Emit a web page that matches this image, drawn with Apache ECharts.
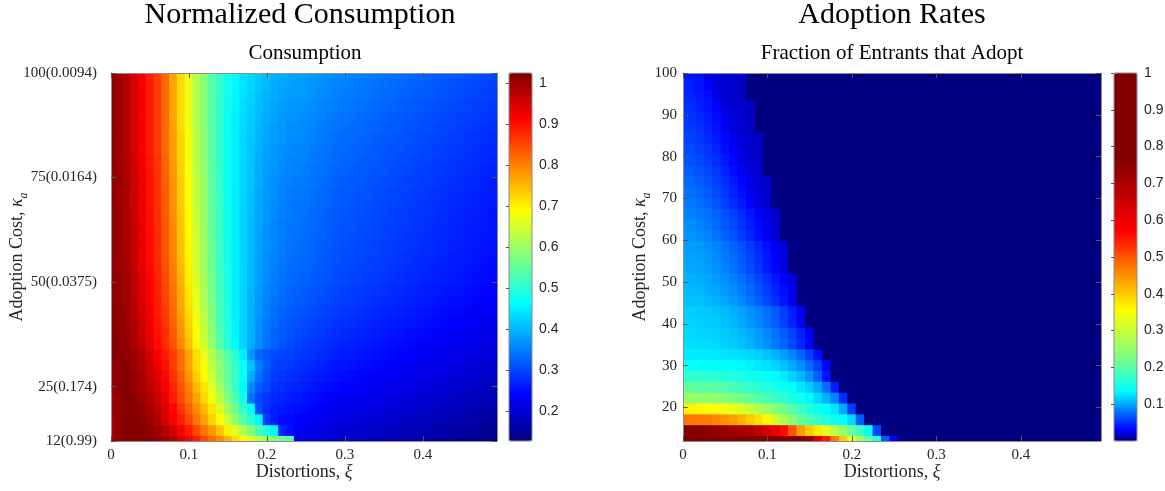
<!DOCTYPE html>
<html><head><meta charset="utf-8">
<script src="https://cdn.jsdelivr.net/npm/echarts@6/dist/echarts.min.js"></script>
<style>html,body{margin:0;padding:0;background:#fff}#c{width:1165px;height:491px}</style>
</head><body><div id="c"></div>
<script>
// ---- grid coordinates (cell centres) ----
const xi = [0,0.01,0.02,0.03,0.04,0.05,0.06,0.07,0.08,0.09,0.10,0.11,0.12,0.13,0.14,0.15,0.16,0.17,0.18,0.19,0.20,0.21,0.22,0.23,0.24,0.25,0.26,0.27,0.28,0.29,0.30,0.31,0.32,0.33,0.34,0.35,0.36,0.37,0.38,0.39,0.40,0.41,0.42,0.43,0.44,0.45,0.46,0.47,0.48,0.49];
const kappa = [12,14.588,17.176,19.765,22.353,24.941,27.529,30.118,32.706,35.294,37.882,40.471,43.059,45.647,48.235,50.824,53.412,56,58.588,61.176,63.765,66.353,68.941,71.529,74.118,76.706,79.294,81.882,84.471,87.059,89.647,92.235,94.824,97.412,100];

// ---- tick labels ----
const xTicks = [0,0.1,0.2,0.3,0.4];
const xTickLabels = ['0','0.1','0.2','0.3','0.4'];
const consYTicks = [12,25,50,75,100];
const consYTickLabels = ['12(0.99)','25(0.174)','50(0.0375)','75(0.0164)','100(0.0094)'];
const adoptYTicks = [20,30,40,50,60,70,80,90,100];
const adoptYTickLabels = ['20','30','40','50','60','70','80','90','100'];
const consBarTicks = [0.2,0.3,0.4,0.5,0.6,0.7,0.8,0.9,1];
const consBarLabels = ['0.2','0.3','0.4','0.5','0.6','0.7','0.8','0.9','1'];
const adoptBarTicks = [0.1,0.2,0.3,0.4,0.5,0.6,0.7,0.8,0.9,1];
const adoptBarLabels = ['0.1','0.2','0.3','0.4','0.5','0.6','0.7','0.8','0.9','1'];
const consRange = [0.127, 1.025];
const adoptRange = [0, 1];

// ---- normalized consumption, one row per kappa (bottom to top), one value per xi ----
const consumption = [
[0.99,1.01,1.02,1.02,1.02,1.02,1.01,1.00,0.98,0.95,0.92,0.89,0.85,0.82,0.79,0.76,0.72,0.69,0.66,0.63,0.60,0.58,0.56,0.54,0.22,0.215,0.21,0.205,0.20,0.195,0.192,0.189,0.186,0.183,0.180,0.177,0.174,0.171,0.168,0.165,0.162,0.159,0.156,0.153,0.150,0.147,0.144,0.141,0.138,0.135],
[0.99,1.01,1.02,1.02,1.02,1.01,1.00,0.98,0.95,0.92,0.89,0.85,0.81,0.78,0.74,0.70,0.66,0.62,0.58,0.53,0.49,0.46,0.27,0.25,0.230,0.225,0.220,0.215,0.210,0.205,0.202,0.199,0.196,0.193,0.190,0.187,0.184,0.181,0.178,0.175,0.172,0.169,0.166,0.163,0.160,0.157,0.154,0.151,0.148,0.145],
[0.99,1.01,1.02,1.02,1.01,1.00,0.98,0.95,0.92,0.89,0.85,0.81,0.77,0.73,0.69,0.64,0.59,0.54,0.50,0.46,0.29,0.265,0.250,0.245,0.240,0.235,0.230,0.225,0.220,0.215,0.212,0.209,0.206,0.203,0.200,0.197,0.194,0.191,0.188,0.185,0.182,0.179,0.176,0.173,0.170,0.167,0.164,0.161,0.158,0.155],
[1.00,1.01,1.02,1.02,1.01,0.99,0.97,0.94,0.91,0.87,0.83,0.79,0.75,0.71,0.66,0.61,0.56,0.51,0.47,0.31,0.28,0.265,0.260,0.255,0.250,0.245,0.240,0.235,0.230,0.225,0.222,0.219,0.216,0.213,0.210,0.207,0.204,0.201,0.198,0.195,0.192,0.189,0.186,0.183,0.180,0.177,0.174,0.171,0.168,0.165],
[1.00,1.01,1.02,1.02,1.00,0.98,0.96,0.93,0.89,0.85,0.81,0.77,0.72,0.68,0.63,0.58,0.53,0.48,0.34,0.30,0.285,0.274,0.269,0.264,0.259,0.254,0.249,0.244,0.239,0.234,0.231,0.228,0.225,0.222,0.219,0.216,0.213,0.210,0.207,0.204,0.201,0.198,0.195,0.192,0.189,0.186,0.183,0.180,0.177,0.174],
[1.00,1.01,1.02,1.01,0.99,0.97,0.95,0.92,0.88,0.84,0.80,0.75,0.71,0.66,0.61,0.56,0.51,0.46,0.36,0.32,0.30,0.282,0.277,0.272,0.267,0.262,0.257,0.252,0.247,0.242,0.239,0.236,0.233,0.230,0.227,0.224,0.221,0.218,0.215,0.212,0.209,0.206,0.203,0.200,0.197,0.194,0.191,0.188,0.185,0.182],
[1.01,1.01,1.02,1.01,0.99,0.96,0.94,0.91,0.87,0.83,0.78,0.73,0.69,0.64,0.59,0.55,0.51,0.47,0.39,0.34,0.31,0.290,0.285,0.280,0.275,0.270,0.265,0.260,0.255,0.250,0.247,0.244,0.241,0.238,0.235,0.232,0.229,0.226,0.223,0.220,0.217,0.214,0.211,0.208,0.205,0.202,0.199,0.196,0.193,0.190],
[1.01,1.01,1.02,1.00,0.98,0.96,0.93,0.90,0.86,0.82,0.77,0.72,0.68,0.63,0.59,0.55,0.51,0.47,0.41,0.35,0.32,0.298,0.293,0.288,0.283,0.278,0.273,0.268,0.263,0.258,0.255,0.252,0.249,0.246,0.243,0.240,0.237,0.234,0.231,0.228,0.225,0.222,0.219,0.216,0.213,0.210,0.207,0.204,0.201,0.198],
[1.02,1.02,1.01,1.00,0.98,0.95,0.92,0.89,0.86,0.82,0.77,0.72,0.67,0.62,0.58,0.54,0.50,0.45,0.37,0.33,0.315,0.305,0.300,0.295,0.290,0.285,0.280,0.275,0.270,0.265,0.262,0.259,0.256,0.253,0.250,0.247,0.244,0.241,0.238,0.235,0.232,0.229,0.226,0.223,0.220,0.217,0.214,0.211,0.208,0.205],
[1.02,1.015,1.01,0.99,0.965,0.935,0.905,0.875,0.84,0.795,0.745,0.695,0.645,0.591,0.542,0.499,0.46,0.426,0.393,0.363,0.340,0.324,0.312,0.303,0.297,0.292,0.287,0.282,0.277,0.272,0.269,0.266,0.263,0.260,0.257,0.254,0.251,0.248,0.245,0.242,0.239,0.236,0.233,0.230,0.227,0.224,0.221,0.218,0.215,0.212],
[1.02,1.015,1.005,0.986,0.959,0.929,0.899,0.872,0.835,0.785,0.735,0.685,0.635,0.584,0.536,0.494,0.456,0.425,0.393,0.365,0.344,0.328,0.317,0.309,0.303,0.298,0.293,0.288,0.283,0.278,0.275,0.272,0.269,0.266,0.263,0.260,0.257,0.254,0.251,0.248,0.245,0.242,0.239,0.236,0.233,0.230,0.227,0.224,0.221,0.218],
[1.02,1.01,1.002,0.983,0.955,0.925,0.895,0.866,0.827,0.778,0.728,0.678,0.628,0.578,0.531,0.492,0.455,0.425,0.394,0.367,0.347,0.333,0.322,0.314,0.309,0.304,0.299,0.294,0.289,0.284,0.281,0.278,0.275,0.272,0.269,0.266,0.263,0.260,0.257,0.254,0.251,0.248,0.245,0.242,0.239,0.236,0.233,0.230,0.227,0.224],
[1.02,1.01,1.00,0.98,0.95,0.92,0.89,0.86,0.82,0.77,0.72,0.67,0.62,0.573,0.526,0.489,0.452,0.425,0.395,0.37,0.351,0.337,0.327,0.319,0.314,0.310,0.305,0.300,0.295,0.290,0.287,0.284,0.281,0.278,0.275,0.272,0.269,0.266,0.263,0.260,0.257,0.254,0.251,0.248,0.245,0.242,0.239,0.236,0.233,0.230],
[1.015,1.009,0.998,0.977,0.947,0.917,0.887,0.856,0.815,0.765,0.715,0.665,0.616,0.57,0.524,0.488,0.452,0.426,0.397,0.372,0.354,0.341,0.331,0.324,0.319,0.315,0.310,0.305,0.300,0.295,0.292,0.289,0.286,0.283,0.280,0.277,0.274,0.271,0.268,0.265,0.262,0.259,0.256,0.253,0.250,0.247,0.244,0.241,0.238,0.235],
[1.01,1.008,0.996,0.974,0.944,0.914,0.884,0.852,0.81,0.76,0.71,0.66,0.612,0.566,0.522,0.486,0.452,0.426,0.399,0.375,0.358,0.345,0.336,0.329,0.324,0.320,0.315,0.310,0.305,0.300,0.297,0.294,0.291,0.288,0.285,0.282,0.279,0.276,0.273,0.270,0.267,0.264,0.261,0.258,0.255,0.252,0.249,0.246,0.243,0.240],
[1.01,1.007,0.994,0.971,0.941,0.911,0.881,0.848,0.805,0.755,0.705,0.655,0.608,0.562,0.52,0.484,0.452,0.426,0.401,0.378,0.361,0.349,0.339,0.333,0.328,0.324,0.319,0.314,0.309,0.304,0.301,0.298,0.295,0.292,0.289,0.286,0.283,0.280,0.277,0.274,0.271,0.268,0.265,0.262,0.259,0.256,0.253,0.250,0.247,0.244],
[1.01,1.006,0.992,0.968,0.938,0.908,0.878,0.844,0.80,0.75,0.70,0.65,0.604,0.559,0.517,0.482,0.451,0.426,0.402,0.38,0.363,0.351,0.342,0.335,0.331,0.327,0.322,0.317,0.312,0.307,0.304,0.301,0.298,0.295,0.292,0.289,0.286,0.283,0.280,0.277,0.274,0.271,0.268,0.265,0.262,0.259,0.256,0.253,0.250,0.247],
[1.01,1.005,0.99,0.965,0.935,0.905,0.875,0.84,0.795,0.745,0.695,0.645,0.60,0.555,0.515,0.48,0.45,0.425,0.403,0.381,0.365,0.353,0.345,0.338,0.334,0.330,0.325,0.320,0.315,0.310,0.307,0.304,0.301,0.298,0.295,0.292,0.289,0.286,0.283,0.280,0.277,0.274,0.271,0.268,0.265,0.262,0.259,0.256,0.253,0.250],
[1.01,1.005,0.99,0.965,0.935,0.905,0.875,0.84,0.795,0.745,0.695,0.645,0.60,0.555,0.515,0.481,0.451,0.426,0.404,0.382,0.367,0.355,0.346,0.34,0.336,0.332,0.327,0.322,0.317,0.312,0.309,0.306,0.303,0.300,0.297,0.294,0.291,0.288,0.285,0.282,0.279,0.276,0.273,0.270,0.267,0.264,0.261,0.258,0.255,0.252],
[1.01,1.005,0.989,0.964,0.934,0.904,0.874,0.838,0.793,0.743,0.693,0.643,0.598,0.553,0.514,0.48,0.451,0.426,0.405,0.384,0.368,0.357,0.348,0.342,0.338,0.334,0.329,0.324,0.319,0.314,0.311,0.308,0.305,0.302,0.299,0.296,0.293,0.290,0.287,0.284,0.281,0.278,0.275,0.272,0.269,0.266,0.263,0.260,0.257,0.254],
[1.01,1.004,0.988,0.962,0.932,0.902,0.872,0.836,0.79,0.74,0.69,0.64,0.596,0.552,0.513,0.479,0.45,0.426,0.405,0.384,0.369,0.358,0.35,0.344,0.34,0.336,0.331,0.326,0.321,0.316,0.313,0.310,0.307,0.304,0.301,0.298,0.295,0.292,0.289,0.286,0.283,0.280,0.277,0.274,0.271,0.268,0.265,0.262,0.259,0.256],
[1.01,1.004,0.987,0.961,0.931,0.901,0.871,0.834,0.788,0.738,0.688,0.638,0.594,0.55,0.512,0.478,0.45,0.426,0.406,0.386,0.371,0.36,0.352,0.346,0.341,0.338,0.333,0.328,0.323,0.318,0.315,0.312,0.309,0.306,0.303,0.300,0.297,0.294,0.291,0.288,0.285,0.282,0.279,0.276,0.273,0.270,0.267,0.264,0.261,0.258],
[1.01,1.003,0.986,0.959,0.929,0.899,0.869,0.832,0.785,0.735,0.685,0.635,0.592,0.548,0.511,0.477,0.45,0.426,0.407,0.387,0.372,0.361,0.353,0.347,0.343,0.340,0.335,0.330,0.325,0.320,0.317,0.314,0.311,0.308,0.305,0.302,0.299,0.296,0.293,0.290,0.287,0.284,0.281,0.278,0.275,0.272,0.269,0.266,0.263,0.260],
[1.01,1.003,0.986,0.959,0.929,0.899,0.869,0.832,0.785,0.735,0.685,0.635,0.592,0.548,0.511,0.478,0.451,0.427,0.408,0.388,0.374,0.363,0.355,0.349,0.345,0.342,0.337,0.332,0.327,0.322,0.319,0.316,0.313,0.310,0.307,0.304,0.301,0.298,0.295,0.292,0.289,0.286,0.283,0.280,0.277,0.274,0.271,0.268,0.265,0.262],
[1.01,1.003,0.985,0.958,0.928,0.898,0.868,0.83,0.783,0.733,0.683,0.633,0.59,0.547,0.51,0.477,0.451,0.428,0.41,0.391,0.376,0.366,0.358,0.352,0.348,0.345,0.340,0.335,0.330,0.325,0.322,0.319,0.316,0.313,0.310,0.307,0.304,0.301,0.298,0.295,0.292,0.289,0.286,0.283,0.280,0.277,0.274,0.271,0.268,0.265],
[1.01,1.002,0.984,0.956,0.926,0.896,0.866,0.828,0.78,0.73,0.68,0.63,0.588,0.545,0.51,0.476,0.451,0.428,0.411,0.392,0.378,0.368,0.361,0.355,0.351,0.348,0.343,0.338,0.333,0.328,0.325,0.322,0.319,0.316,0.313,0.310,0.307,0.304,0.301,0.298,0.295,0.292,0.289,0.286,0.283,0.280,0.277,0.274,0.271,0.268],
[1.01,1.00,0.983,0.955,0.925,0.895,0.865,0.826,0.778,0.728,0.678,0.628,0.586,0.543,0.509,0.476,0.451,0.429,0.413,0.394,0.381,0.371,0.363,0.358,0.354,0.351,0.346,0.341,0.336,0.331,0.328,0.325,0.322,0.319,0.316,0.313,0.310,0.307,0.304,0.301,0.298,0.295,0.292,0.289,0.286,0.283,0.280,0.277,0.274,0.271],
[1.01,1.00,0.98,0.95,0.92,0.89,0.86,0.82,0.775,0.725,0.675,0.625,0.584,0.541,0.508,0.475,0.452,0.429,0.414,0.396,0.383,0.373,0.366,0.361,0.357,0.354,0.349,0.344,0.339,0.334,0.331,0.328,0.325,0.322,0.319,0.316,0.313,0.310,0.307,0.304,0.301,0.298,0.295,0.292,0.289,0.286,0.283,0.280,0.277,0.274],
[1.01,1.00,0.98,0.95,0.92,0.89,0.86,0.82,0.775,0.725,0.675,0.625,0.584,0.542,0.508,0.476,0.453,0.43,0.416,0.398,0.385,0.376,0.369,0.364,0.36,0.357,0.352,0.347,0.342,0.337,0.334,0.331,0.328,0.325,0.322,0.319,0.316,0.313,0.310,0.307,0.304,0.301,0.298,0.295,0.292,0.289,0.286,0.283,0.280,0.277],
[1.01,1.00,0.98,0.95,0.92,0.89,0.86,0.82,0.772,0.722,0.672,0.622,0.582,0.54,0.508,0.476,0.453,0.431,0.418,0.401,0.388,0.379,0.372,0.366,0.363,0.360,0.355,0.350,0.345,0.340,0.337,0.334,0.331,0.328,0.325,0.322,0.319,0.316,0.313,0.310,0.307,0.304,0.301,0.298,0.295,0.292,0.289,0.286,0.283,0.280],
[1.01,1.00,0.98,0.95,0.92,0.89,0.86,0.82,0.77,0.72,0.67,0.62,0.58,0.538,0.507,0.475,0.454,0.432,0.42,0.403,0.391,0.382,0.375,0.37,0.367,0.364,0.359,0.354,0.349,0.344,0.341,0.338,0.335,0.332,0.329,0.326,0.323,0.320,0.317,0.314,0.311,0.308,0.305,0.302,0.299,0.296,0.293,0.290,0.287,0.284],
[1.01,1.00,0.98,0.95,0.92,0.89,0.86,0.82,0.77,0.72,0.67,0.62,0.58,0.54,0.508,0.476,0.455,0.434,0.422,0.406,0.394,0.385,0.379,0.374,0.371,0.368,0.363,0.358,0.353,0.348,0.345,0.342,0.339,0.336,0.333,0.330,0.327,0.324,0.321,0.318,0.315,0.312,0.309,0.306,0.303,0.300,0.297,0.294,0.291,0.288],
[1.01,1.00,0.98,0.95,0.92,0.89,0.86,0.82,0.77,0.72,0.67,0.62,0.58,0.54,0.51,0.48,0.457,0.436,0.425,0.409,0.397,0.389,0.383,0.378,0.375,0.372,0.367,0.362,0.357,0.352,0.349,0.346,0.343,0.340,0.337,0.334,0.331,0.328,0.325,0.322,0.319,0.316,0.313,0.310,0.307,0.304,0.301,0.298,0.295,0.292],
[1.01,1.00,0.98,0.95,0.92,0.89,0.86,0.82,0.77,0.72,0.67,0.62,0.58,0.54,0.51,0.48,0.46,0.44,0.43,0.414,0.402,0.393,0.387,0.382,0.379,0.376,0.371,0.366,0.361,0.356,0.353,0.350,0.347,0.344,0.341,0.338,0.335,0.332,0.329,0.326,0.323,0.320,0.317,0.314,0.311,0.308,0.305,0.302,0.299,0.296],
[1.01,1.00,0.98,0.95,0.92,0.89,0.86,0.82,0.77,0.72,0.67,0.62,0.58,0.54,0.51,0.48,0.46,0.44,0.43,0.415,0.404,0.396,0.39,0.386,0.383,0.380,0.375,0.370,0.365,0.360,0.357,0.354,0.351,0.348,0.345,0.342,0.339,0.336,0.333,0.330,0.327,0.324,0.321,0.318,0.315,0.312,0.309,0.306,0.303,0.300]
];

// ---- fraction of entrants that adopt, one row per kappa (bottom to top) ----
const adoption = [
[0.98,0.98,0.97,0.97,0.96,0.95,0.94,0.93,0.92,0.91,0.89,0.87,0.85,0.82,0.80,0.74,0.62,0.55,0.47,0.40,0.34,0.26,0.21,0.16,0.07,0.03,0,0,0,0,0,0,0,0,0,0,0,0,0,0,0,0,0,0,0,0,0,0,0,0],
[0.78,0.77,0.76,0.75,0.74,0.73,0.72,0.71,0.70,0.67,0.64,0.60,0.56,0.50,0.44,0.40,0.37,0.33,0.29,0.25,0.21,0.18,0.14,0.06,0,0,0,0,0,0,0,0,0,0,0,0,0,0,0,0,0,0,0,0,0,0,0,0,0,0],
[0.475,0.475,0.47,0.47,0.46,0.45,0.44,0.42,0.40,0.38,0.36,0.31,0.27,0.24,0.21,0.19,0.175,0.16,0.145,0.135,0.12,0.07,0,0,0,0,0,0,0,0,0,0,0,0,0,0,0,0,0,0,0,0,0,0,0,0,0,0,0,0],
[0.365,0.365,0.36,0.355,0.35,0.34,0.33,0.32,0.30,0.28,0.26,0.24,0.22,0.20,0.18,0.16,0.145,0.135,0.125,0.10,0.055,0,0,0,0,0,0,0,0,0,0,0,0,0,0,0,0,0,0,0,0,0,0,0,0,0,0,0,0,0],
[0.255,0.255,0.25,0.25,0.245,0.24,0.23,0.22,0.21,0.2,0.19,0.18,0.17,0.157,0.145,0.133,0.12,0.105,0.085,0.048,0,0,0,0,0,0,0,0,0,0,0,0,0,0,0,0,0,0,0,0,0,0,0,0,0,0,0,0,0,0],
[0.21,0.21,0.205,0.205,0.2,0.195,0.19,0.182,0.175,0.167,0.16,0.152,0.145,0.136,0.126,0.115,0.1,0.078,0.042,0,0,0,0,0,0,0,0,0,0,0,0,0,0,0,0,0,0,0,0,0,0,0,0,0,0,0,0,0,0,0],
[0.173,0.172,0.17,0.168,0.165,0.162,0.158,0.154,0.15,0.145,0.14,0.134,0.127,0.118,0.107,0.092,0.07,0.038,0,0,0,0,0,0,0,0,0,0,0,0,0,0,0,0,0,0,0,0,0,0,0,0,0,0,0,0,0,0,0,0],
[0.14,0.14,0.139,0.138,0.137,0.136,0.135,0.133,0.13,0.127,0.123,0.118,0.111,0.102,0.091,0.077,0.058,0.032,0,0,0,0,0,0,0,0,0,0,0,0,0,0,0,0,0,0,0,0,0,0,0,0,0,0,0,0,0,0,0,0],
[0.128,0.128,0.127,0.127,0.126,0.125,0.124,0.122,0.12,0.117,0.112,0.105,0.097,0.087,0.074,0.058,0.035,0,0,0,0,0,0,0,0,0,0,0,0,0,0,0,0,0,0,0,0,0,0,0,0,0,0,0,0,0,0,0,0,0],
[0.123,0.123,0.122,0.121,0.119,0.117,0.114,0.11,0.105,0.099,0.092,0.083,0.073,0.061,0.046,0.029,0,0,0,0,0,0,0,0,0,0,0,0,0,0,0,0,0,0,0,0,0,0,0,0,0,0,0,0,0,0,0,0,0,0],
[0.12,0.12,0.119,0.118,0.116,0.114,0.111,0.107,0.102,0.096,0.089,0.08,0.07,0.058,0.044,0.028,0,0,0,0,0,0,0,0,0,0,0,0,0,0,0,0,0,0,0,0,0,0,0,0,0,0,0,0,0,0,0,0,0,0],
[0.118,0.118,0.117,0.115,0.113,0.11,0.106,0.101,0.095,0.088,0.08,0.07,0.058,0.043,0.028,0,0,0,0,0,0,0,0,0,0,0,0,0,0,0,0,0,0,0,0,0,0,0,0,0,0,0,0,0,0,0,0,0,0,0],
[0.116,0.116,0.115,0.113,0.111,0.108,0.104,0.099,0.093,0.086,0.078,0.068,0.056,0.042,0.028,0,0,0,0,0,0,0,0,0,0,0,0,0,0,0,0,0,0,0,0,0,0,0,0,0,0,0,0,0,0,0,0,0,0,0],
[0.112,0.111,0.11,0.107,0.104,0.1,0.095,0.088,0.08,0.071,0.061,0.05,0.038,0.026,0,0,0,0,0,0,0,0,0,0,0,0,0,0,0,0,0,0,0,0,0,0,0,0,0,0,0,0,0,0,0,0,0,0,0,0],
[0.109,0.108,0.106,0.103,0.1,0.095,0.09,0.083,0.075,0.066,0.056,0.045,0.034,0.024,0,0,0,0,0,0,0,0,0,0,0,0,0,0,0,0,0,0,0,0,0,0,0,0,0,0,0,0,0,0,0,0,0,0,0,0],
[0.106,0.105,0.103,0.1,0.096,0.091,0.085,0.078,0.07,0.061,0.051,0.04,0.03,0.022,0,0,0,0,0,0,0,0,0,0,0,0,0,0,0,0,0,0,0,0,0,0,0,0,0,0,0,0,0,0,0,0,0,0,0,0],
[0.103,0.102,0.1,0.097,0.092,0.086,0.079,0.071,0.062,0.052,0.041,0.031,0.022,0,0,0,0,0,0,0,0,0,0,0,0,0,0,0,0,0,0,0,0,0,0,0,0,0,0,0,0,0,0,0,0,0,0,0,0,0],
[0.1,0.099,0.097,0.094,0.089,0.083,0.076,0.068,0.059,0.049,0.039,0.029,0.021,0,0,0,0,0,0,0,0,0,0,0,0,0,0,0,0,0,0,0,0,0,0,0,0,0,0,0,0,0,0,0,0,0,0,0,0,0],
[0.098,0.097,0.095,0.091,0.086,0.08,0.073,0.065,0.056,0.046,0.036,0.027,0.02,0,0,0,0,0,0,0,0,0,0,0,0,0,0,0,0,0,0,0,0,0,0,0,0,0,0,0,0,0,0,0,0,0,0,0,0,0],
[0.095,0.093,0.09,0.086,0.08,0.073,0.065,0.056,0.046,0.036,0.027,0.02,0,0,0,0,0,0,0,0,0,0,0,0,0,0,0,0,0,0,0,0,0,0,0,0,0,0,0,0,0,0,0,0,0,0,0,0,0,0],
[0.092,0.09,0.087,0.082,0.076,0.069,0.061,0.052,0.042,0.033,0.025,0.019,0,0,0,0,0,0,0,0,0,0,0,0,0,0,0,0,0,0,0,0,0,0,0,0,0,0,0,0,0,0,0,0,0,0,0,0,0,0],
[0.088,0.086,0.083,0.078,0.072,0.065,0.057,0.048,0.039,0.03,0.023,0.018,0,0,0,0,0,0,0,0,0,0,0,0,0,0,0,0,0,0,0,0,0,0,0,0,0,0,0,0,0,0,0,0,0,0,0,0,0,0],
[0.084,0.082,0.078,0.073,0.066,0.058,0.049,0.04,0.03,0.022,0.018,0,0,0,0,0,0,0,0,0,0,0,0,0,0,0,0,0,0,0,0,0,0,0,0,0,0,0,0,0,0,0,0,0,0,0,0,0,0,0],
[0.08,0.078,0.074,0.069,0.062,0.054,0.045,0.036,0.027,0.021,0.017,0,0,0,0,0,0,0,0,0,0,0,0,0,0,0,0,0,0,0,0,0,0,0,0,0,0,0,0,0,0,0,0,0,0,0,0,0,0,0],
[0.076,0.074,0.07,0.065,0.058,0.05,0.041,0.032,0.024,0.02,0.017,0,0,0,0,0,0,0,0,0,0,0,0,0,0,0,0,0,0,0,0,0,0,0,0,0,0,0,0,0,0,0,0,0,0,0,0,0,0,0],
[0.072,0.07,0.066,0.06,0.053,0.045,0.036,0.027,0.021,0.017,0,0,0,0,0,0,0,0,0,0,0,0,0,0,0,0,0,0,0,0,0,0,0,0,0,0,0,0,0,0,0,0,0,0,0,0,0,0,0,0],
[0.068,0.066,0.062,0.056,0.049,0.041,0.032,0.024,0.02,0.017,0,0,0,0,0,0,0,0,0,0,0,0,0,0,0,0,0,0,0,0,0,0,0,0,0,0,0,0,0,0,0,0,0,0,0,0,0,0,0,0],
[0.064,0.062,0.058,0.052,0.045,0.037,0.028,0.022,0.019,0.016,0,0,0,0,0,0,0,0,0,0,0,0,0,0,0,0,0,0,0,0,0,0,0,0,0,0,0,0,0,0,0,0,0,0,0,0,0,0,0,0],
[0.06,0.058,0.054,0.048,0.041,0.033,0.025,0.021,0.018,0.016,0,0,0,0,0,0,0,0,0,0,0,0,0,0,0,0,0,0,0,0,0,0,0,0,0,0,0,0,0,0,0,0,0,0,0,0,0,0,0,0],
[0.056,0.054,0.05,0.044,0.037,0.028,0.022,0.019,0.016,0,0,0,0,0,0,0,0,0,0,0,0,0,0,0,0,0,0,0,0,0,0,0,0,0,0,0,0,0,0,0,0,0,0,0,0,0,0,0,0,0],
[0.053,0.051,0.047,0.041,0.034,0.025,0.021,0.018,0.016,0,0,0,0,0,0,0,0,0,0,0,0,0,0,0,0,0,0,0,0,0,0,0,0,0,0,0,0,0,0,0,0,0,0,0,0,0,0,0,0,0],
[0.05,0.048,0.044,0.038,0.03,0.022,0.02,0.018,0.016,0,0,0,0,0,0,0,0,0,0,0,0,0,0,0,0,0,0,0,0,0,0,0,0,0,0,0,0,0,0,0,0,0,0,0,0,0,0,0,0,0],
[0.047,0.045,0.041,0.034,0.024,0.02,0.018,0.016,0,0,0,0,0,0,0,0,0,0,0,0,0,0,0,0,0,0,0,0,0,0,0,0,0,0,0,0,0,0,0,0,0,0,0,0,0,0,0,0,0,0],
[0.044,0.042,0.038,0.03,0.021,0.02,0.018,0.016,0,0,0,0,0,0,0,0,0,0,0,0,0,0,0,0,0,0,0,0,0,0,0,0,0,0,0,0,0,0,0,0,0,0,0,0,0,0,0,0,0,0],
[0.042,0.04,0.036,0.022,0.02,0.019,0.018,0.016,0,0,0,0,0,0,0,0,0,0,0,0,0,0,0,0,0,0,0,0,0,0,0,0,0,0,0,0,0,0,0,0,0,0,0,0,0,0,0,0,0,0]
];

// ---- styles ----
const serif = "'Liberation Serif','DejaVu Serif',serif";
const sans = "'Liberation Sans',Arial,sans-serif";
const textCol = '#262626';
const frameCol = '#8c8c8c';
const tickCol = '#555';
const jet = ['#000080','#0000ff','#0080ff','#00ffff','#80ff80','#ffff00','#ff8000','#ff0000','#800000'];
const adoptStops = [[0,[0,0,128]],[0.03,[0,0,255]],[0.085,[0,128,255]],[0.135,[0,255,255]],[0.23,[128,255,128]],[0.355,[255,255,0]],[0.464,[255,128,0]],[0.57,[255,0,0]],[0.77,[128,0,0]],[1,[128,0,0]]];
function sampleStops(stops, n) {
  const out = [];
  for (let j = 0; j < n; j++) {
    const v = j / (n - 1);
    let a = stops[0], b = stops[stops.length - 1];
    for (let s = 0; s < stops.length - 1; s++) {
      if (v >= stops[s][0] && v <= stops[s + 1][0]) { a = stops[s]; b = stops[s + 1]; break; }
    }
    const f = b[0] === a[0] ? 0 : (v - a[0]) / (b[0] - a[0]);
    const c = a[1].map((x, q) => Math.round(x + (b[1][q] - x) * f));
    out.push('rgb(' + c.join(',') + ')');
  }
  return out;
}
const adoptColors = sampleStops(adoptStops, 201);

function cells(matrix) {
  const out = [];
  matrix.forEach((row, k) => row.forEach((v, i) => out.push([xi[i], kappa[k], v])));
  return out;
}
const DX = xi[1] - xi[0];
const DY = kappa[1] - kappa[0];
function renderCell(params, api) {
  const c = api.coord([api.value(0), api.value(1)]);
  const s = api.size([DX, DY]);
  const cs = params.coordSys;
  const r = echarts.graphic.clipRectByRect(
    { x: c[0] - s[0] / 2 - 0.4, y: c[1] - s[1] / 2 - 0.4, width: s[0] + 0.8, height: s[1] + 0.8 },
    { x: cs.x, y: cs.y, width: cs.width, height: cs.height });
  if (!r) return;
  return { type: 'rect', shape: r, style: { fill: api.visual('color') } };
}
function lookup(ticks, labels) {
  return v => { const i = ticks.findIndex(t => Math.abs(t - v) < 1e-9); return i >= 0 ? labels[i] : ''; };
}
const nameStyle = {
  fontFamily: serif, fontSize: 18, color: textCol,
  rich: {
    n: { fontFamily: serif, fontSize: 18, color: textCol, lineHeight: 26, verticalAlign: 'middle' },
    i: { fontFamily: serif, fontSize: 18, color: textCol, fontStyle: 'italic', lineHeight: 26, verticalAlign: 'middle' },
    s: { fontFamily: serif, fontSize: 12, color: textCol, fontStyle: 'italic', lineHeight: 26, verticalAlign: 'bottom' }
  }
};

function xAxisFor(grid, pos, withLabels) {
  return {
    type: 'value', gridIndex: grid, position: pos, min: 0, max: 0.495, z: 10,
    axisLine: { show: true, onZero: false, lineStyle: { color: frameCol, width: 1 } },
    axisTick: { show: true, inside: true, length: 5, customValues: xTicks, lineStyle: { color: tickCol } },
    axisLabel: { show: withLabels, customValues: xTicks, formatter: lookup(xTicks, xTickLabels), fontFamily: serif, fontSize: 15, color: textCol, margin: 7 },
    splitLine: { show: false },
    name: withLabels ? '{n|Distortions, }{i|ξ}' : '', nameLocation: 'middle', nameGap: 18, nameMoveOverlap: false, nameTextStyle: nameStyle
  };
}
function yAxisFor(grid, pos, ticks, labels, withLabels, gap, margin) {
  return {
    type: 'value', gridIndex: grid, position: pos, min: 12, max: 100, z: 10,
    axisLine: { show: true, onZero: false, lineStyle: { color: frameCol, width: 1 } },
    axisTick: { show: true, inside: true, length: 5, customValues: ticks, lineStyle: { color: tickCol } },
    axisLabel: { show: withLabels, customValues: ticks, formatter: lookup(ticks, labels), fontFamily: serif, fontSize: 15, color: textCol, margin: margin },
    splitLine: { show: false },
    name: withLabels ? '{n|Adoption Cost, }{i|κ}{s|a}' : '', nameLocation: 'middle', nameGap: gap, nameMoveOverlap: false, nameTextStyle: nameStyle
  };
}
function barAxis(grid, range, ticks, labels) {
  return {
    type: 'value', gridIndex: grid, position: 'right', min: range[0], max: range[1], z: 10,
    axisLine: { show: false },
    axisTick: { show: true, inside: true, length: 3, customValues: ticks, lineStyle: { color: tickCol } },
    axisLabel: { show: true, customValues: ticks, formatter: lookup(ticks, labels), fontFamily: sans, fontSize: 14, color: textCol, margin: 7 },
    splitLine: { show: false }
  };
}
function hiddenX(grid) { return { type: 'value', gridIndex: grid, show: false, min: 0, max: 1 }; }

const chart = echarts.init(document.getElementById('c'), null, { renderer: 'canvas' });
chart.setOption({
  animation: false,
  backgroundColor: '#fff',
  title: [
    { text: 'Normalized Consumption', left: 300, top: 0, textAlign: 'center', padding: 0, textStyle: { fontFamily: serif, fontSize: 30, fontWeight: 'normal', color: '#000' } },
    { text: 'Consumption', left: 305, top: 43, textAlign: 'center', padding: 0, textStyle: { fontFamily: serif, fontSize: 21, fontWeight: 'normal', color: '#000' } },
    { text: 'Adoption Rates', left: 892, top: 0, textAlign: 'center', padding: 0, textStyle: { fontFamily: serif, fontSize: 30, fontWeight: 'normal', color: '#000' } },
    { text: 'Fraction of Entrants that Adopt', left: 892, top: 43, textAlign: 'center', padding: 0, textStyle: { fontFamily: serif, fontSize: 21, fontWeight: 'normal', color: '#000' } }
  ],
  grid: [
    { left: 111, top: 73, width: 386, height: 368, outerBoundsMode: 'none', containLabel: false },
    { left: 683, top: 73, width: 418, height: 368, outerBoundsMode: 'none', containLabel: false },
    { left: 509, top: 73, width: 23, height: 368, outerBoundsMode: 'none', show: true, z: 10, borderColor: frameCol, borderWidth: 1, backgroundColor: 'transparent' },
    { left: 1114, top: 73, width: 23, height: 368, outerBoundsMode: 'none', show: true, z: 10, borderColor: frameCol, borderWidth: 1, backgroundColor: 'transparent' }
  ],
  xAxis: [xAxisFor(0, 'bottom', true), xAxisFor(0, 'top', false), xAxisFor(1, 'bottom', true), xAxisFor(1, 'top', false), hiddenX(2), hiddenX(3)],
  yAxis: [
    yAxisFor(0, 'left', consYTicks, consYTickLabels, true, 81, 14),
    yAxisFor(0, 'right', consYTicks, consYTickLabels, false, 0, 6),
    yAxisFor(1, 'left', adoptYTicks, adoptYTickLabels, true, 30, 6),
    yAxisFor(1, 'right', adoptYTicks, adoptYTickLabels, false, 0, 6),
    barAxis(2, consRange, consBarTicks, consBarLabels),
    barAxis(3, adoptRange, adoptBarTicks, adoptBarLabels)
  ],
  visualMap: [
    { type: 'continuous', seriesIndex: 0, dimension: 2, min: consRange[0], max: consRange[1], inRange: { color: jet },
      left: 509, top: 73, itemWidth: 23, itemHeight: 368, calculable: false, padding: 0, hoverLink: false, text: null, textStyle: { color: 'transparent' } },
    { type: 'continuous', seriesIndex: 1, dimension: 2, min: adoptRange[0], max: adoptRange[1], inRange: { color: adoptColors },
      left: 1114, top: 73, itemWidth: 23, itemHeight: 368, calculable: false, padding: 0, hoverLink: false, text: null, textStyle: { color: 'transparent' } }
  ],
  series: [
    { type: 'custom', xAxisIndex: 0, yAxisIndex: 0, renderItem: renderCell, data: cells(consumption), silent: true, encode: { x: 0, y: 1 } },
    { type: 'custom', xAxisIndex: 2, yAxisIndex: 2, renderItem: renderCell, data: cells(adoption), silent: true, encode: { x: 0, y: 1 } }
  ]
});
</script>
</body></html>
